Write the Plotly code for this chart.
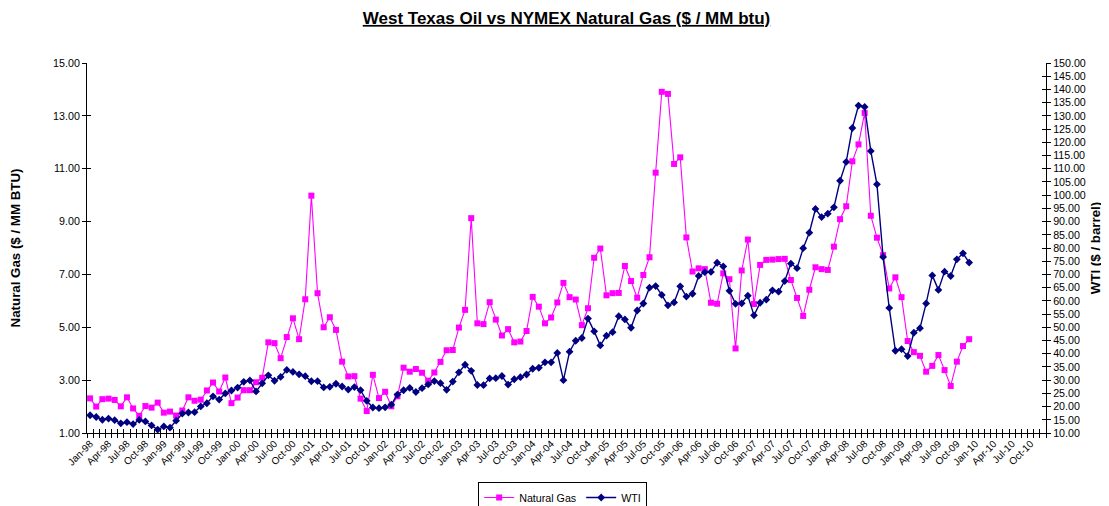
import plotly.graph_objects as go

# ---------------- data ----------------
years = ["98", "99", "00", "01", "02", "03", "04", "05", "06", "07", "08", "09", "10"]
month_names = ["Jan", "Feb", "Mar", "Apr", "May", "Jun", "Jul", "Aug", "Sep", "Oct", "Nov", "Dec"]
categories = [f"{m}-{y}" for y in years for m in month_names]   # Jan-98 .. Dec-10

natural_gas = [
    2.31, 2.00, 2.28, 2.30, 2.25, 2.01, 2.35, 1.93, 1.65, 2.02, 1.96, 2.15,   # 1998
    1.77, 1.81, 1.66, 1.85, 2.35, 2.22, 2.26, 2.61, 2.91, 2.57, 3.10, 2.13,   # 1999
    2.34, 2.62, 2.62, 2.92, 3.09, 4.43, 4.40, 3.83, 4.63, 5.34, 4.55, 6.06,   # 2000
    9.98, 6.29, 5.00, 5.38, 4.90, 3.70, 3.14, 3.15, 2.30, 1.83, 3.20, 2.32,   # 2001
    2.56, 2.01, 2.39, 3.47, 3.32, 3.42, 3.28, 2.98, 3.29, 3.69, 4.13, 4.14,   # 2002
    4.99, 5.66, 9.13, 5.15, 5.12, 5.95, 5.29, 4.69, 4.93, 4.43, 4.46, 4.86,   # 2003
    6.15, 5.78, 5.15, 5.37, 5.94, 6.68, 6.14, 6.05, 5.08, 5.72, 7.63, 7.98,   # 2004
    6.21, 6.29, 6.30, 7.32, 6.75, 6.12, 6.98, 7.65, 10.85, 13.91, 13.83, 11.18,  # 2005
    11.43, 8.40, 7.11, 7.23, 7.20, 5.93, 5.89, 7.04, 6.82, 4.20, 7.15, 8.32,  # 2006
    5.88, 7.36, 7.55, 7.56, 7.58, 7.59, 6.79, 6.11, 5.43, 6.42, 7.27, 7.20,   # 2007
    7.17, 8.05, 9.09, 9.58, 11.28, 11.92, 13.11, 9.22, 8.39, 7.73, 6.47, 6.89,  # 2008
    6.14, 4.48, 4.06, 3.92, 3.32, 3.54, 3.95, 3.38, 2.78, 3.70, 4.29, 4.55,   # 2009
]

wti = [
    16.71, 16.06, 15.02, 15.44, 14.86, 13.66, 14.08, 13.36, 14.95, 14.39, 12.85, 11.28,   # 1998
    12.47, 12.01, 14.66, 17.34, 17.75, 17.89, 20.07, 21.26, 23.88, 22.64, 24.97, 26.08,   # 1999
    27.18, 29.35, 29.89, 25.74, 28.78, 31.83, 29.77, 31.22, 33.88, 33.11, 32.20, 31.50,   # 2000
    29.59, 29.61, 27.24, 27.49, 28.63, 27.60, 26.43, 27.37, 26.20, 22.17, 19.64, 19.39,   # 2001
    19.72, 20.72, 24.53, 26.18, 27.04, 25.52, 26.97, 28.39, 29.66, 28.84, 26.35, 29.46,   # 2002
    32.95, 35.83, 33.51, 28.17, 28.11, 30.66, 30.76, 31.57, 28.31, 30.34, 31.11, 32.13,   # 2003
    34.31, 34.69, 36.74, 36.75, 40.28, 30.00, 40.78, 44.90, 45.94, 53.28, 48.47, 43.15,   # 2004
    46.84, 48.15, 54.19, 52.98, 49.83, 56.35, 59.00, 64.99, 65.59, 62.26, 58.32, 59.41,   # 2005
    65.49, 61.63, 62.69, 69.44, 70.84, 70.95, 74.41, 73.04, 63.80, 58.89, 59.08, 61.96,   # 2006
    54.51, 59.28, 60.44, 63.98, 63.46, 67.49, 74.12, 72.36, 79.92, 85.80, 94.77, 91.69,   # 2007
    92.97, 95.39, 105.45, 112.58, 125.40, 133.88, 133.37, 116.67, 104.11, 76.61, 57.31, 41.12,  # 2008
    41.71, 39.09, 47.94, 49.65, 59.03, 69.64, 64.15, 71.05, 69.41, 75.72, 77.99, 74.47,   # 2009
]

label_every = 3
tick_positions = list(range(0, len(categories), label_every))
tick_labels = [categories[i] for i in tick_positions]
boundaries = [i - 0.5 for i in range(len(categories) + 1)]

FONT = "Arial, Liberation Sans, sans-serif"
GAS_COLOR = "#FF00FF"
WTI_COLOR = "#000080"

x_gas = list(range(len(natural_gas)))
x_wti = list(range(len(wti)))

# the page body adds an 8px margin, so the figure is sized to the remaining space
FIG_W, FIG_H = 1101, 498
M_L, M_R, M_T, M_B = 79, 63, 55, 73

fig = go.Figure()
fig.add_trace(go.Scatter(
    x=x_gas, y=natural_gas, name="Natural Gas", mode="lines+markers",
    line=dict(color=GAS_COLOR, width=1.1),
    marker=dict(symbol="square", size=6, color=GAS_COLOR),
    xaxis="x", yaxis="y",
))
fig.add_trace(go.Scatter(
    x=x_wti, y=wti, name="WTI", mode="lines+markers",
    line=dict(color=WTI_COLOR, width=1.4),
    marker=dict(symbol="diamond", size=6, color=WTI_COLOR),
    xaxis="x", yaxis="y2",
))
# empty helper traces so that the tick-only overlay axes are drawn
for xa, ya in [("x2", "y"), ("x3", "y"), ("x", "y3"), ("x", "y4")]:
    fig.add_trace(go.Scatter(x=[], y=[], xaxis=xa, yaxis=ya, showlegend=False,
                             hoverinfo="skip"))

TICK_SIZE = 10.7
xrange = [-0.5, len(categories) - 0.5]
plot_h = FIG_H - M_T - M_B
fig.update_layout(
    width=FIG_W, height=FIG_H,
    margin=dict(l=M_L, r=M_R, t=M_T, b=M_B, autoexpand=False),
    paper_bgcolor="white", plot_bgcolor="white",
    font=dict(family=FONT, color="black", size=TICK_SIZE),
    title=dict(
        text="<u><b>West Texas Oil vs NYMEX Natural Gas ($ / MM btu)</b></u>",
        x=0.5, xref="paper", xanchor="center",
        y=1 - 10 / FIG_H, yref="container", yanchor="middle",
        font=dict(family=FONT, size=17, color="black"),
        automargin=False,
    ),
    showlegend=True,
    legend=dict(
        orientation="h", x=0.496, xanchor="center", y=-(474 - (FIG_H - M_B)) / plot_h,
        yanchor="top",
        bordercolor="black", borderwidth=1, bgcolor="white",
        font=dict(family=FONT, size=TICK_SIZE, color="black"),
        itemwidth=30, tracegroupgap=0,
    ),
    xaxis=dict(
        range=xrange, tickmode="array", tickvals=tick_positions, ticktext=tick_labels,
        tickangle=-45, ticks="", showline=True, linecolor="black", linewidth=1,
        showgrid=False, zeroline=False, anchor="y", automargin=False,
        tickfont=dict(family=FONT, size=10, color="black"),
    ),
    xaxis2=dict(
        range=xrange, overlaying="x", anchor="y", tickmode="array", tickvals=boundaries,
        ticks="outside", ticklen=4, tickcolor="black", showticklabels=False,
        showline=False, showgrid=False, zeroline=False, automargin=False,
    ),
    xaxis3=dict(
        range=xrange, overlaying="x", anchor="y", tickmode="array", tickvals=boundaries,
        ticks="inside", ticklen=4, tickcolor="black", showticklabels=False,
        showline=False, showgrid=False, zeroline=False, automargin=False,
    ),
    yaxis=dict(
        range=[1, 15], tick0=1, dtick=2, tickformat=".2f",
        ticks="outside", ticklen=4, tickcolor="black", automargin=False,
        showline=True, linecolor="black", linewidth=1, showgrid=False, zeroline=False,
        title=dict(text="<b>Natural Gas ($ / MM BTU)</b>", standoff=30,
                   font=dict(family=FONT, size=13.3, color="black")),
        tickfont=dict(family=FONT, size=TICK_SIZE, color="black"),
    ),
    yaxis2=dict(
        range=[10, 150], tick0=10, dtick=5, tickformat=".2f", overlaying="y", side="right",
        anchor="x", ticks="outside", ticklen=4, tickcolor="black", automargin=False,
        showline=True, linecolor="black", linewidth=1, showgrid=False, zeroline=False,
        title=dict(text="<b>WTI ($ / barrel)</b>", standoff=5,
                   font=dict(family=FONT, size=13.3, color="black")),
        tickfont=dict(family=FONT, size=TICK_SIZE, color="black"),
    ),
    yaxis3=dict(
        range=[1, 15], tick0=1, dtick=2, overlaying="y", side="left", anchor="x",
        ticks="inside", ticklen=4, tickcolor="black", showticklabels=False,
        showline=False, showgrid=False, zeroline=False, automargin=False,
    ),
    yaxis4=dict(
        range=[10, 150], tick0=10, dtick=5, overlaying="y", side="right", anchor="x",
        ticks="inside", ticklen=4, tickcolor="black", showticklabels=False,
        showline=False, showgrid=False, zeroline=False, automargin=False,
    ),
)

fig.write_html("out.html")
